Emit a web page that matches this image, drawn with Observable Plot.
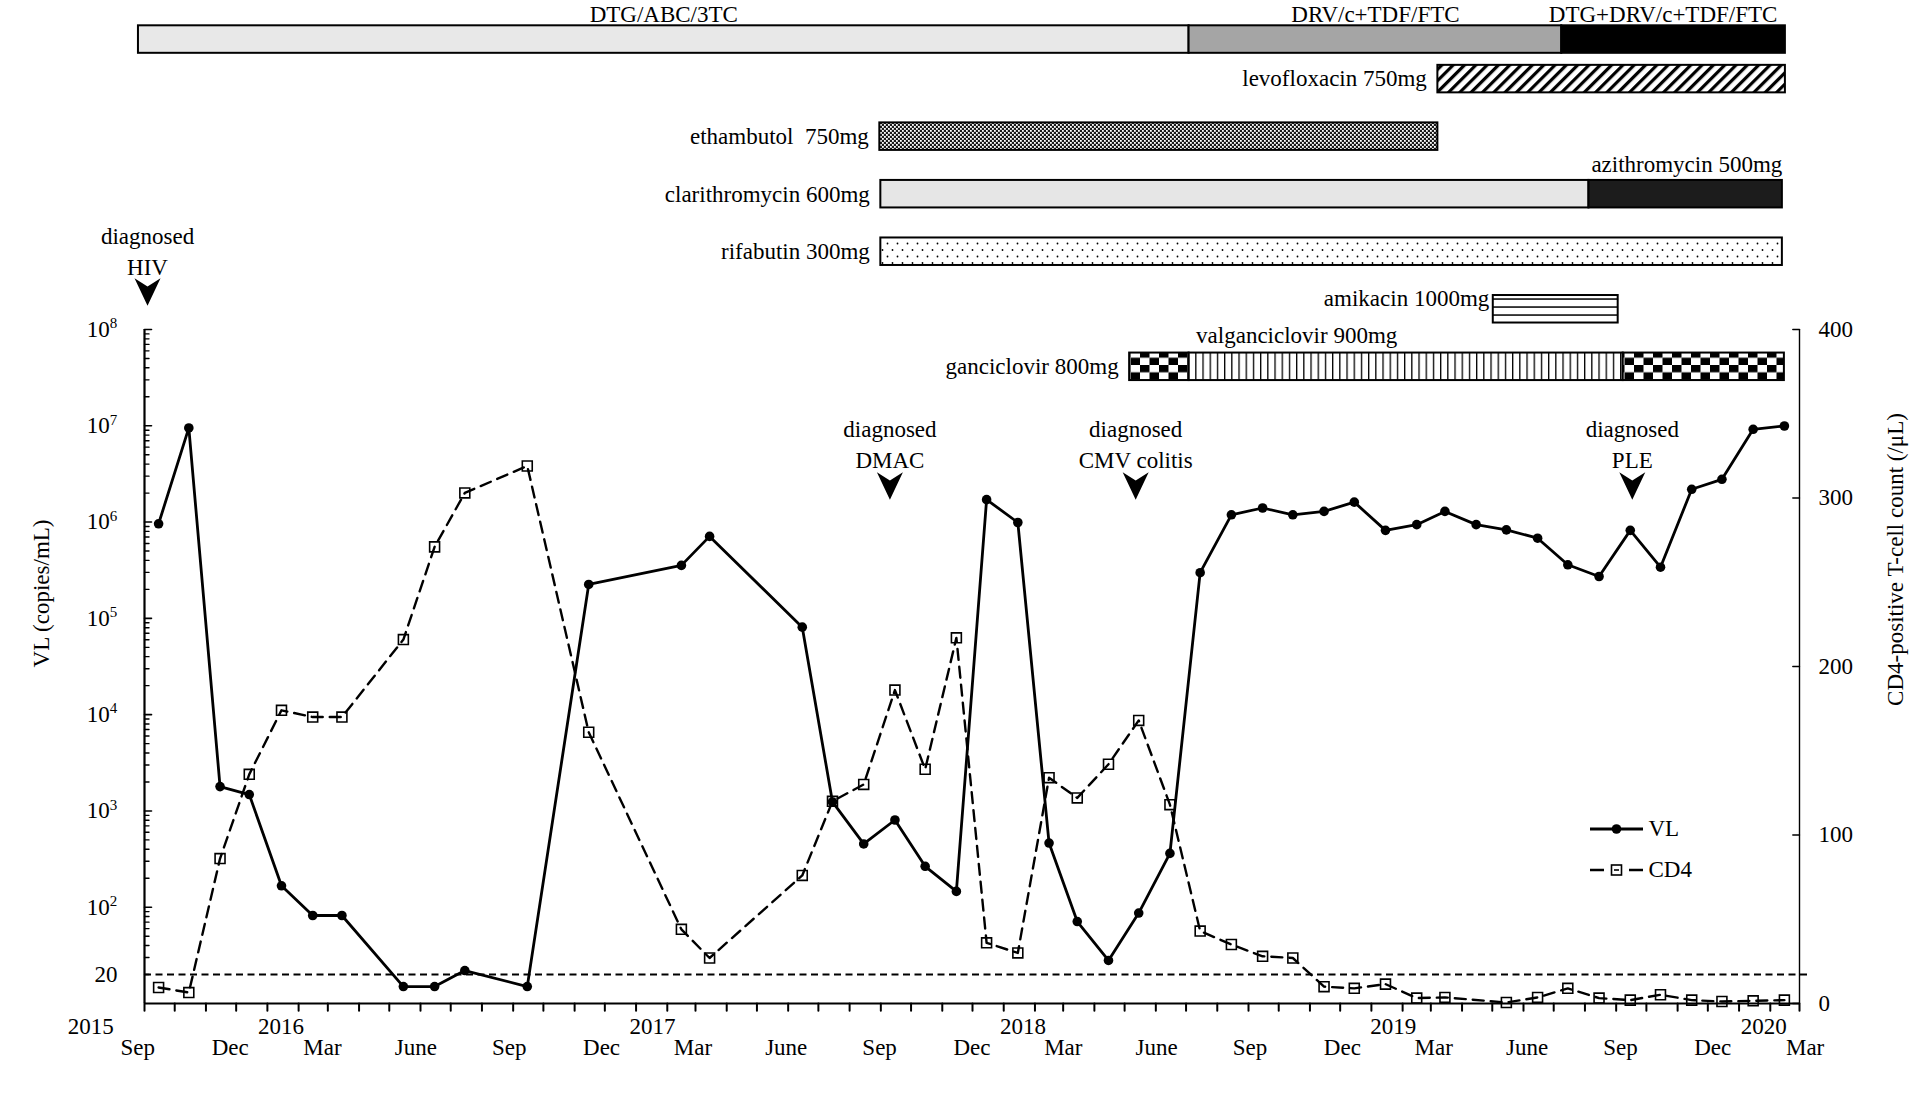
<!DOCTYPE html>
<html>
<head>
<meta charset="utf-8">
<script src="https://cdn.jsdelivr.net/npm/d3@7"></script>
<script src="https://cdn.jsdelivr.net/npm/@observablehq/plot@0.6"></script>
<style>
  html, body { margin: 0; padding: 0; background: #fff; }
  #chart { position: relative; width: 1911px; height: 1107px; overflow: hidden; background: #fff; }
  #chart > svg { position: absolute; left: 0; top: 0; }
  #chart text { white-space: pre; }
</style>
</head>
<body>
<svg width="0" height="0" style="position:absolute;left:0;top:0" aria-hidden="true">
  <defs>
    <pattern id="p-hatch" patternUnits="userSpaceOnUse" width="8" height="8" patternTransform="rotate(45)">
      <rect width="8" height="8" fill="#fff"/><rect width="3.2" height="8" fill="#000"/>
    </pattern>
    <pattern id="p-dither" patternUnits="userSpaceOnUse" width="4" height="4">
      <rect width="4" height="4" fill="#1a1a1a"/><rect width="1.8" height="1.8" fill="#fff"/><rect x="2" y="2" width="1.8" height="1.8" fill="#fff"/>
    </pattern>
    <pattern id="p-dots" patternUnits="userSpaceOnUse" width="10" height="13">
      <rect width="10" height="13" fill="#fff"/><circle cx="2.5" cy="3" r="0.9" fill="#000"/><circle cx="7.5" cy="9.5" r="0.9" fill="#000"/>
    </pattern>
    <pattern id="p-check" patternUnits="userSpaceOnUse" width="19" height="14.6">
      <rect width="19" height="14.6" fill="#fff"/><rect width="9.5" height="7.3" fill="#000"/><rect x="9.5" y="7.3" width="9.5" height="7.3" fill="#000"/>
    </pattern>
    <pattern id="p-vlines" patternUnits="userSpaceOnUse" width="7.2" height="10">
      <rect width="7.2" height="10" fill="#fff"/><rect width="1.3" height="10" fill="#000"/>
    </pattern>
    <pattern id="p-hlines" patternUnits="userSpaceOnUse" width="10" height="8">
      <rect width="10" height="8" fill="#fff"/><rect y="2.3" width="10" height="1.5" fill="#000"/>
    </pattern>
  </defs>
</svg>
<div id="chart"></div>
<script>
// ---------------- DATA ----------------
// Viral load (copies/mL)
const vlDates = ["2015-09-15","2015-10-15","2015-11-15","2015-12-14","2016-01-15","2016-02-15","2016-03-15","2016-05-15","2016-06-15","2016-07-15","2016-09-15","2016-11-15","2017-02-15","2017-03-15","2017-06-15","2017-07-15","2017-08-15","2017-09-15","2017-10-15","2017-11-15","2017-12-15","2018-01-15","2018-02-15","2018-03-15","2018-04-15","2018-05-15","2018-06-15","2018-07-15","2018-08-15","2018-09-15","2018-10-15","2018-11-15","2018-12-15","2019-01-15","2019-02-15","2019-03-15","2019-04-15","2019-05-15","2019-06-15","2019-07-15","2019-08-15","2019-09-15","2019-10-15","2019-11-15","2019-12-15","2020-01-15","2020-02-15"];
const vlValues = [9.6e5, 9.5e6, 1790, 1480, 167, 82, 82, 15, 15, 22, 15, 2.25e5, 3.55e5, 7.1e5, 8.1e4, 1240, 454, 805, 266, 146, 1.71e6, 9.9e5, 464, 71, 28, 87, 362, 2.98e5, 1.19e6, 1.4e6, 1.19e6, 1.29e6, 1.61e6, 8.2e5, 9.4e5, 1.29e6, 9.4e5, 8.3e5, 6.8e5, 3.6e5, 2.72e5, 8.2e5, 3.4e5, 2.19e6, 2.78e6, 9.2e6, 9.95e6];

// CD4-positive T-cell count (/uL)
const cd4Dates = ["2015-09-15","2015-10-15","2015-11-15","2015-12-14","2016-01-15","2016-02-15","2016-03-15","2016-05-15","2016-06-15","2016-07-15","2016-09-15","2016-11-15","2017-02-15","2017-03-15","2017-06-15","2017-07-15","2017-08-15","2017-09-15","2017-10-15","2017-11-15","2017-12-15","2018-01-15","2018-02-15","2018-03-15","2018-04-15","2018-05-15","2018-06-15","2018-07-15","2018-08-15","2018-09-15","2018-10-15","2018-11-15","2018-12-15","2019-01-15","2019-02-15","2019-03-15","2019-05-15","2019-06-15","2019-07-15","2019-08-15","2019-09-15","2019-10-15","2019-11-15","2019-12-15","2020-01-15","2020-02-15"];
const cd4Values = [9.5, 6.5, 86, 136, 174, 170, 170, 216, 271, 303, 319, 161, 44, 27, 76, 120, 130, 186, 139, 217, 36, 30, 134, 122, 142, 168, 118, 43, 35, 28, 27, 10, 9, 11.5, 3.2, 3.6, 0.6, 3.6, 9, 3.2, 2, 5.2, 2, 1.2, 1.6, 2];

// Antiretroviral regimens
const regimenNames  = ["DTG/ABC/3TC", "DRV/c+TDF/FTC", "DTG+DRV/c+TDF/FTC"];
const regimenStarts = ["2015-08-26", "2018-07-04", "2019-07-09"];
const regimenEnds   = ["2018-07-04", "2019-07-09", "2020-02-16"];

// Other drugs
const drugRows   = ["levofloxacin", "ethambutol", "clarithromycin", "rifabutin", "amikacin", "ganciclovir"];
const drugNames  = ["levofloxacin 750mg", "ethambutol  750mg", "clarithromycin 600mg", "azithromycin 500mg", "rifabutin 300mg", "amikacin 1000mg", "ganciclovir 800mg", "valganciclovir 900mg", "ganciclovir 800mg"];
const drugRowOf  = ["levofloxacin", "ethambutol", "clarithromycin", "clarithromycin", "rifabutin", "amikacin", "ganciclovir", "ganciclovir", "ganciclovir"];
const drugStarts = ["2019-03-08", "2017-08-31", "2017-09-01", "2019-08-05", "2017-09-01", "2019-05-02", "2018-05-06", "2018-07-04", "2019-09-08"];
const drugEnds   = ["2020-02-16", "2019-03-08", "2019-08-05", "2020-02-13", "2020-02-13", "2019-09-03", "2018-07-04", "2019-09-08", "2020-02-15"];

// Diagnoses
const eventDates  = ["2015-09-04", "2017-09-10", "2018-05-12", "2019-09-17"];
const eventLabels = ["diagnosed\nHIV", "diagnosed\nDMAC", "diagnosed\nCMV colitis", "diagnosed\nPLE"];

// Axis ticks
const vlExponents = [2, 3, 4, 5, 6, 7, 8];
const vlLimit = 20;
const cd4Ticks = [0, 100, 200, 300, 400];
const quarterNames = {2: "Mar", 5: "June", 8: "Sep", 11: "Dec"};
const yearLabels = ["2015", "2016", "2017", "2018", "2019", "2020"];

// ---------------- LAYOUT / STYLE ----------------
const parse = d3.utcParse("%Y-%m-%d");
const xDomain = [parse("2015-09-01"), parse("2020-03-01")];
const W = 1911, H = 1107;
const M = {top: 329, right: 112, bottom: 104, left: 144};
const font = "'Liberation Serif', 'Times New Roman', Times, serif";
const style = {background: "transparent", overflow: "visible", fontFamily: font, fontSize: "23px", color: "#000"};
const frame = {width: W, height: H, marginTop: M.top, marginRight: M.right, marginBottom: M.bottom, marginLeft: M.left};

const vl = vlDates.map((d, i) => ({date: parse(d), value: vlValues[i]}));
const cd4 = cd4Dates.map((d, i) => ({date: parse(d), value: cd4Values[i]}));
const regimens = regimenNames.map((name, i) => ({name, start: parse(regimenStarts[i]), end: parse(regimenEnds[i])}));
const drugs = drugNames.map((name, i) => ({name, i, row: drugRowOf[i], start: parse(drugStarts[i]), end: parse(drugEnds[i])}));
const events = eventDates.map((d, i) => ({date: parse(d), label: eventLabels[i]}));

const vlMajor = vlExponents.map(e => 10 ** e);
const vlMinor = d3.range(1, 8).flatMap(e => d3.range(2, 10).map(k => k * 10 ** e));
const monthTicks = d3.utcMonth.range(xDomain[0], new Date(+xDomain[1] + 1));
const quarterTicks = monthTicks.filter(d => d.getUTCMonth() % 3 === 2);
const yearTicks = monthTicks.filter(d => d.getUTCMonth() === 0);

const regimenFill = {"DTG/ABC/3TC": "#e8e8e8", "DRV/c+TDF/FTC": "#a5a5a5", "DTG+DRV/c+TDF/FTC": "#000"};
const drugFill = {
  "levofloxacin 750mg": "url(#p-hatch)",
  "ethambutol  750mg": "url(#p-dither)",
  "clarithromycin 600mg": "#e6e6e6",
  "azithromycin 500mg": "#1c1c1c",
  "rifabutin 300mg": "url(#p-dots)",
  "amikacin 1000mg": "url(#p-hlines)",
  "ganciclovir 800mg": "url(#p-check)",
  "valganciclovir 900mg": "url(#p-vlines)"
};

const tickShape = {draw(context, l) { context.moveTo(0, 0); context.lineTo(0, -l); }};
const arrowSymbol = {draw(context) {
  context.moveTo(-13, -13.8); context.lineTo(0, -5.5); context.lineTo(13, -13.8); context.lineTo(0, 13.8); context.closePath();
}};

const chart = document.getElementById("chart");

// ---- Layer 1: treatment bars ----
const rowsDomain = ["ART", ...drugRows];
const firstOfRow = new Set(drugRows.map(r => drugs.findIndex(d => d.row === r)));
const leftLabeled = drugs.filter(d => firstOfRow.has(d.i) && d.row !== "amikacin");
const treat = Plot.plot({
  ...frame, marginTop: 0, marginBottom: 0,
  style,
  x: {type: "utc", domain: xDomain, axis: null},
  y: {type: "band", domain: rowsDomain, range: [-22.73, 410.1], padding: 0.522, round: false, axis: null},
  color: {type: "identity"},
  marks: [
    Plot.barX(regimens, {x1: "start", x2: "end", y: () => "ART", fill: d => regimenFill[d.name], stroke: "#000", strokeWidth: 2, dy: 18}),
    Plot.text(regimens.slice(0, 2), {x: d => new Date((+d.start + +d.end) / 2), y: () => "ART", text: "name", lineAnchor: "middle", dy: -6.5}),
    Plot.text(regimens.slice(2), {x: "end", y: () => "ART", text: "name", textAnchor: "end", lineAnchor: "middle", dx: -8, dy: -6.5}),
    Plot.barX(drugs, {x1: "start", x2: "end", y: "row", fill: d => drugFill[d.name], stroke: "#000", strokeWidth: 2}),
    Plot.text(leftLabeled, {x: "start", y: "row", text: "name", textAnchor: "end", lineAnchor: "middle", dx: -11}),
    Plot.text(drugs.filter(d => d.row === "amikacin"), {x: "start", y: "row", text: "name", textAnchor: "end", lineAnchor: "middle", dx: -4, dy: -11}),
    Plot.text(drugs.filter(d => d.name.startsWith("azithromycin")), {x: "end", y: "row", text: "name", textAnchor: "end", lineAnchor: "middle", dy: -29.4}),
    Plot.text(drugs.filter(d => d.name.startsWith("valganciclovir")), {x: "start", y: "row", text: "name", textAnchor: "start", lineAnchor: "middle", dx: 7, dy: -31.3})
  ]
});
chart.appendChild(treat);

// ---- Layer 2: CD4 (right axis) ----
const cd4Plot = Plot.plot({
  ...frame,
  style,
  x: {type: "utc", domain: xDomain, axis: null},
  y: {domain: [0, 400], axis: null},
  marks: [
    Plot.ruleX([xDomain[1]], {stroke: "#000", strokeWidth: 1.4}),
    Plot.vector(cd4Ticks, {y: d => d, frameAnchor: "right", rotate: -90, length: 6.7, anchor: "start", shape: tickShape, stroke: "#000", strokeWidth: 1.4}),
    Plot.text(cd4Ticks, {y: d => d, text: d => String(d), frameAnchor: "right", textAnchor: "start", lineAnchor: "middle", dx: 19}),
    Plot.dot(cd4, {x: "date", y: "value", symbol: "square", r: 5.6, fill: "#fff", stroke: "#000", strokeWidth: 1.6}),
    Plot.line(cd4, {x: "date", y: "value", stroke: "#000", strokeWidth: 2.4, strokeDasharray: "11,7"})
  ]
});
chart.appendChild(cd4Plot);

// ---- Layer 3: VL (left axis) ----
const main = Plot.plot({
  ...frame,
  style,
  x: {type: "utc", domain: xDomain, axis: null},
  y: {type: "log", domain: [10, 1e8], axis: null},
  marks: [
    Plot.ruleY([vlLimit], {stroke: "#000", strokeWidth: 1.8, strokeDasharray: "7,4.5", insetRight: -9}),
    Plot.ruleX([xDomain[0]], {stroke: "#000", strokeWidth: 2.2}),
    Plot.ruleY([10], {stroke: "#000", strokeWidth: 2}),
    Plot.vector(vlMinor, {y: d => d, frameAnchor: "left", rotate: 90, length: 4.5, anchor: "start", shape: tickShape, stroke: "#000", strokeWidth: 1.4}),
    Plot.vector(vlMajor, {y: d => d, frameAnchor: "left", rotate: 90, length: 7, anchor: "start", shape: tickShape, stroke: "#000", strokeWidth: 1.6}),
    Plot.vector(monthTicks, {x: d => d, frameAnchor: "bottom", rotate: 180, length: 7.3, anchor: "start", shape: tickShape, stroke: "#000", strokeWidth: 2}),
    Plot.text(vlMajor, {y: d => d, text: () => "10", frameAnchor: "left", textAnchor: "end", lineAnchor: "middle", dx: -34.8}),
    Plot.text(vlMajor, {y: d => d, text: d => String(Math.round(Math.log10(d))), frameAnchor: "left", textAnchor: "start", lineAnchor: "middle", dx: -34.8, dy: -6, fontSize: 15}),
    Plot.text([vlLimit], {y: d => d, text: d => String(d), frameAnchor: "left", textAnchor: "end", lineAnchor: "middle", dx: -27}),
    Plot.text(["VL (copies/mL)"], {frameAnchor: "left", rotate: -90, textAnchor: "middle", lineAnchor: "middle", dx: -103, dy: -73}),
    Plot.text(["CD4-positive T-cell count (/μL)"], {frameAnchor: "right", rotate: -90, textAnchor: "middle", lineAnchor: "middle", dx: 96, dy: -107}),
    Plot.text(events.slice(0, 1), {x: "date", text: "label", frameAnchor: "top", textAnchor: "middle", lineAnchor: "middle", dy: -80, lineHeight: 1.36}),
    Plot.text(events.slice(1), {x: "date", text: "label", frameAnchor: "top", textAnchor: "middle", lineAnchor: "middle", dy: 112.8, lineHeight: 1.36}),
    Plot.dot(events.slice(0, 1), {x: "date", frameAnchor: "top", dy: -37.5, symbol: arrowSymbol, fill: "#000", stroke: "none"}),
    Plot.dot(events.slice(1), {x: "date", frameAnchor: "top", dy: 156.5, symbol: arrowSymbol, fill: "#000", stroke: "none"}),
    Plot.line(vl, {x: "date", y: "value", stroke: "#000", strokeWidth: 2.8}),
    Plot.dot(vl, {x: "date", y: "value", r: 4.8, fill: "#000"})
  ]
});
chart.appendChild(main);

// ---- Layer 4: x-axis tick labels ----
const xLabels = Plot.plot({
  ...frame, marginLeft: 137.3, marginRight: W - 1804.6,
  style,
  x: {type: "utc", domain: xDomain, axis: null},
  marks: [
    Plot.text(quarterTicks, {x: d => d, text: d => quarterNames[d.getUTCMonth()], frameAnchor: "bottom", textAnchor: "middle", lineAnchor: "middle", dy: 44.5}),
    Plot.text(yearTicks, {x: d => d, text: d => yearLabels[d.getUTCFullYear() - 2015], frameAnchor: "bottom", textAnchor: "middle", lineAnchor: "middle", dx: 19.5, dy: 22.7}),
    Plot.text(yearLabels.slice(0, 1), {frameAnchor: "bottom-left", textAnchor: "end", lineAnchor: "middle", dx: -24, dy: 22.7})
  ]
});
chart.appendChild(xLabels);

// ---- Legend ----
const leg = d3.create("svg").attr("width", W).attr("height", H)
  .style("font-family", font).style("font-size", "23px");
const g1 = leg.append("g").attr("transform", "translate(1590,829)");
g1.append("line").attr("x1", 0).attr("x2", 53).attr("stroke", "#000").attr("stroke-width", 2.8);
g1.append("circle").attr("cx", 26.5).attr("r", 4.8).attr("fill", "#000");
g1.append("text").attr("x", 58.5).attr("dy", "0.32em").text("VL");
const g2 = leg.append("g").attr("transform", "translate(1590,870)");
g2.append("line").attr("x1", 0).attr("x2", 53).attr("stroke", "#000").attr("stroke-width", 2.4).attr("stroke-dasharray", "14,7,11,7,14");
g2.append("rect").attr("x", 21.5).attr("y", -5).attr("width", 10).attr("height", 10).attr("fill", "#fff").attr("stroke", "#000").attr("stroke-width", 1.6);
g2.append("line").attr("x1", 24).attr("x2", 29).attr("stroke", "#000").attr("stroke-width", 1.6);
g2.append("text").attr("x", 58.5).attr("dy", "0.32em").text("CD4");
chart.appendChild(leg.node());
</script>
</body>
</html>
